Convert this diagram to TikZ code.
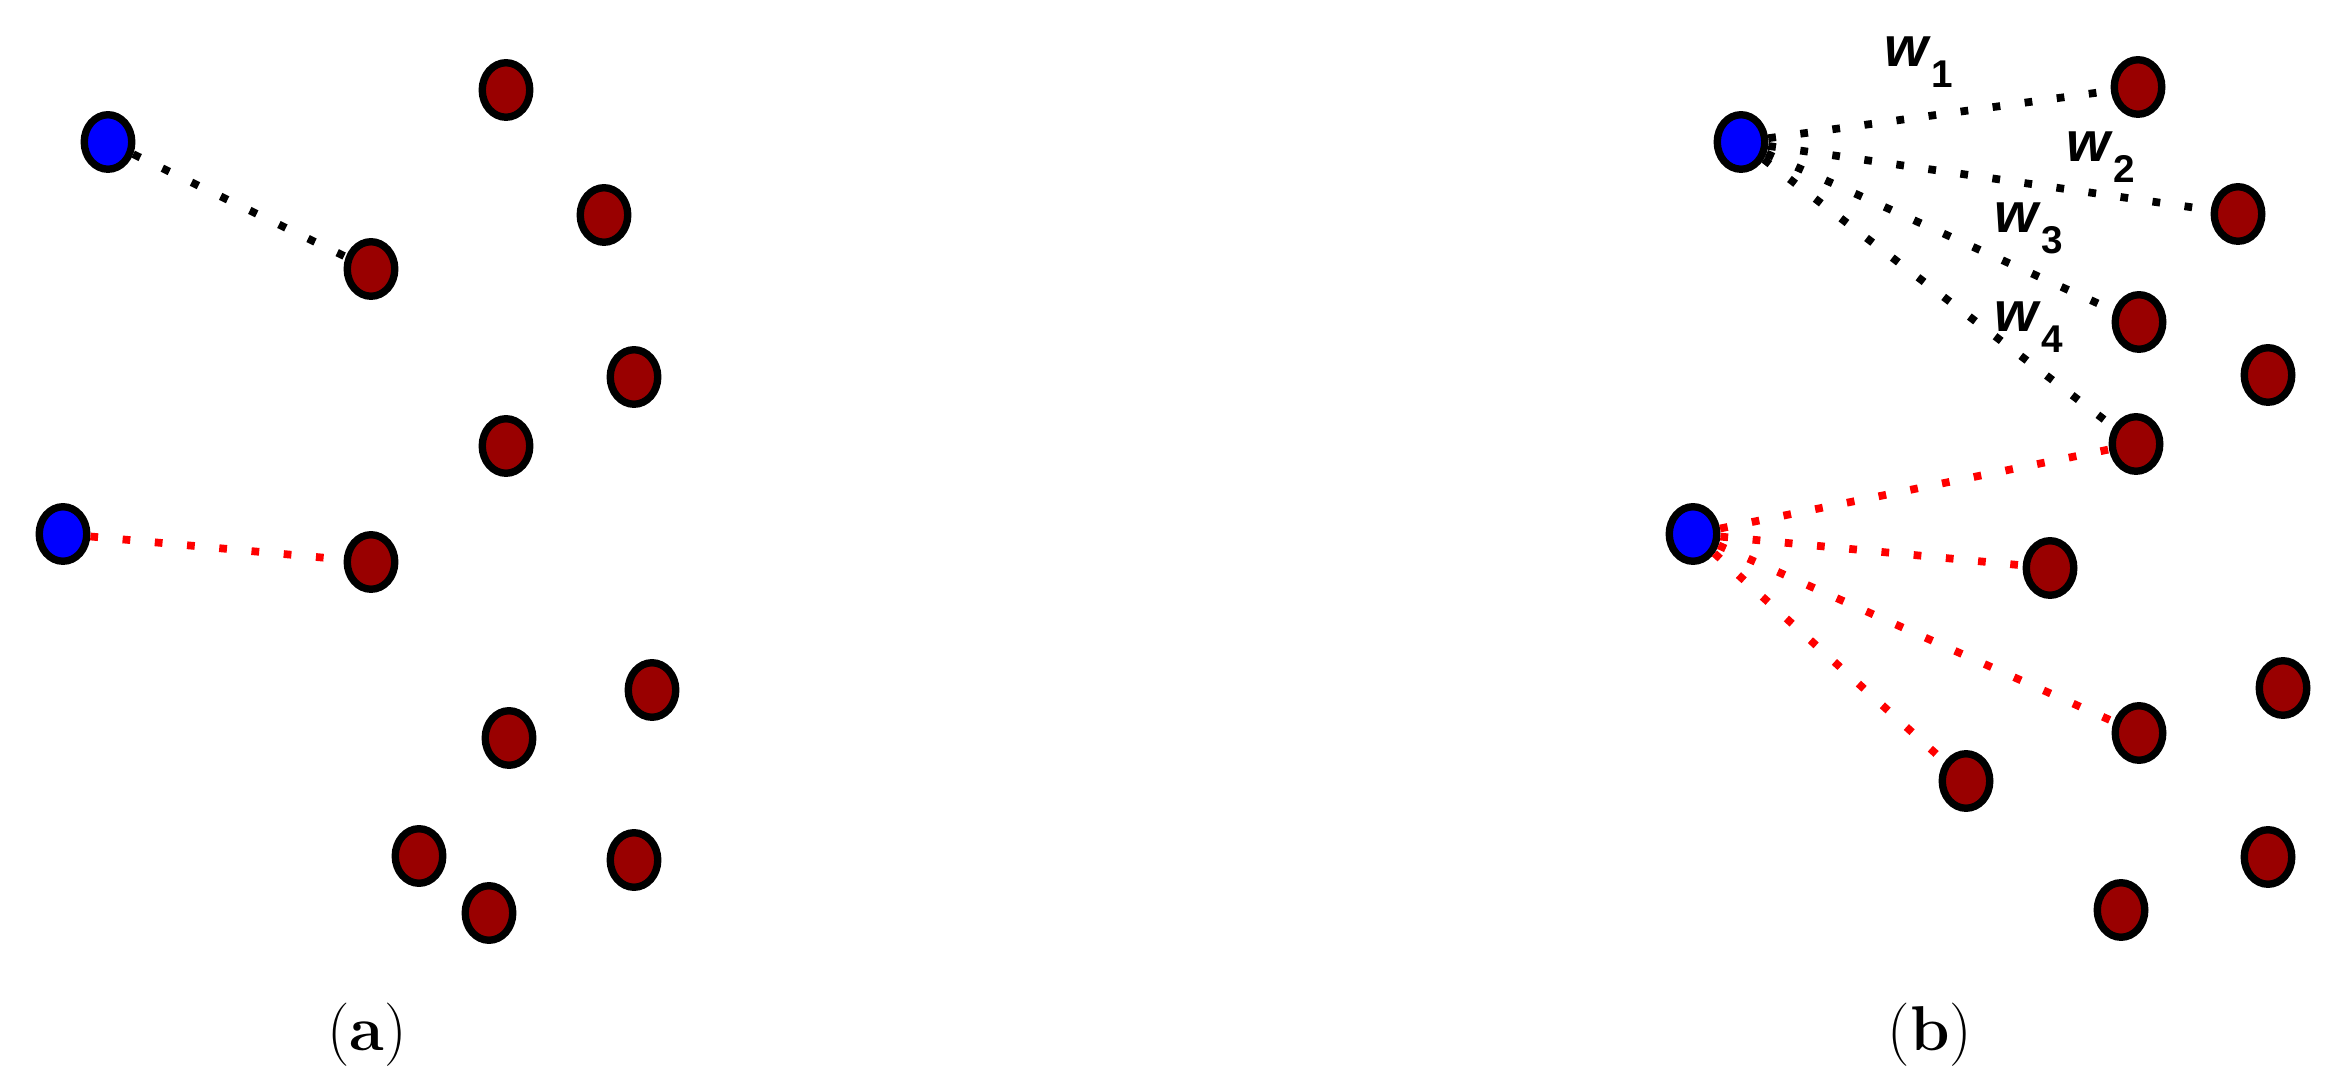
\documentclass[tikz,border=0pt]{standalone}
\usepackage{fontspec}
\newfontfamily\arialfont{Liberation Sans}
\usetikzlibrary{shapes.geometric}
\definecolor{dunkelrot}{RGB}{153,0,0}
\tikzset{
	punkt/.style={
		ellipse,
		draw=black, line width=2.1pt,
		minimum width=0.475cm,
		minimum height=0.545cm,
		inner sep=0pt},
	quelle/.style={punkt, fill=blue},
	ziel/.style={punkt, fill=dunkelrot},
	kante/.style={draw, line width=2.2pt, dash pattern=on 2.2pt off 7pt},
	gewicht/.style={anchor=base west, inner sep=0pt, font=\arialfont\bfseries},
	untertitel/.style={inner sep=0pt, font=\fontsize{18}{22}\selectfont},
}
\newcommand{\gewichtw}[1]{\fontsize{16}{19}\selectfont\textit{w}\raisebox{-5.7pt}{\fontsize{11}{13}\selectfont #1}}

\begin{document}
\begin{tikzpicture}
	 			[x=0.01cm, y=-0.01cm]
	 			\useasboundingbox (0,0) rectangle (2346,1089);
	 			% (a)
	 			\node[quelle] (la) at (108,142) {};
	 			\node[quelle] (lb) at (63,534) {};
	 			\node[ziel] (leins) at (506,90) {};
	 			\node[ziel] (lzwei) at (371,269) {};
	 			\node[ziel] (ldrei) at (604,215) {};
	 			\node[ziel] (lvier) at (634,377) {};
	 			\node[ziel] (lfuenf) at (506,446) {};
	 			\node[ziel] (lsechs) at (371,562) {};
	 			\node[ziel] (lsieben) at (652,690) {};
	 			\node[ziel] (lacht) at (509,738) {};
	 			\node[ziel] (lneun) at (419,856) {};
	 			\node[ziel] (lzehn) at (634,860) {};
	 			\node[ziel] (lelf) at (489,913) {};
	 			\draw[kante] (la) -- (lzwei);
	 			\draw[kante, red] (lb) -- (lsechs);
	 			\node[untertitel] (capa) at (367,1035) {(\textbf{a})};
	 			% (b)
	 			\node[quelle] (ra) at (1741,142) {};
	 			\node[quelle] (rb) at (1693,534) {};
	 			\node[ziel] (reins) at (2138,87) {};
	 			\node[ziel] (rzwei) at (2238,214) {};
	 			\node[ziel] (rdrei) at (2139,322) {};
	 			\node[ziel] (rvier) at (2268,375) {};
	 			\node[ziel] (rfuenf) at (2136,444) {};
	 			\node[ziel] (rsechs) at (2050,568) {};
	 			\node[ziel] (rsieben) at (2283,688) {};
	 			\node[ziel] (racht) at (2139,733) {};
	 			\node[ziel] (rneun) at (1966,781) {};
	 			\node[ziel] (rzehn) at (2268,857) {};
	 			\node[ziel] (relf) at (2121,910) {};
	 			\draw[kante] (ra) -- (reins);
	 			\draw[kante] (ra) -- (rzwei);
	 			\draw[kante] (ra) -- (rdrei);
	 			\draw[kante] (ra) -- (rfuenf);
	 			\draw[kante, red] (rb) -- (rfuenf);
	 			\draw[kante, red] (rb) -- (rsechs);
	 			\draw[kante, red] (rb) -- (racht);
	 			\draw[kante, red] (rb) -- (rneun);
	 			\node[gewicht] (weins) at (1884,67) {\gewichtw{1}};
	 			\node[gewicht] (wzwei) at (2066,162) {\gewichtw{2}};
	 			\node[gewicht] (wdrei) at (1994,233) {\gewichtw{3}};
	 			\node[gewicht] (wvier) at (1994,332) {\gewichtw{4}};
	 			\node[untertitel] (capb) at (1930,1035) {(\textbf{b})};
\end{tikzpicture}
\end{document}
